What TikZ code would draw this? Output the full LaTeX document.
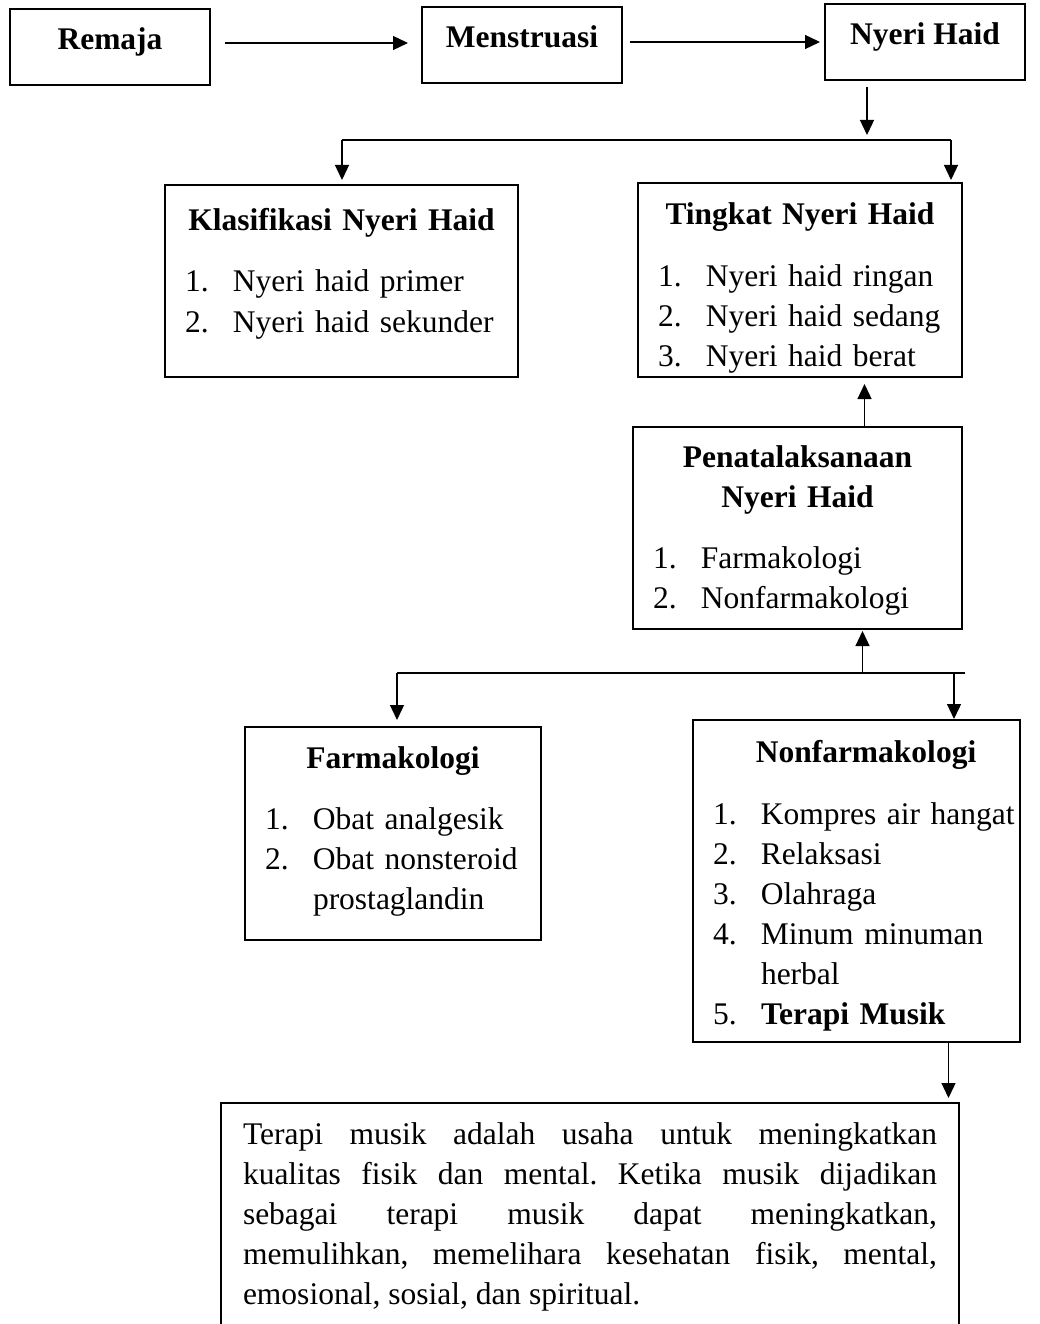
\documentclass[tikz,border=0pt]{standalone}
\usepackage{fontspec}
\setmainfont{Liberation Serif}
\usetikzlibrary{arrows.meta,positioning}
\tikzset{>={Triangle[length=15pt,width=14pt]}}
\newcommand{\diagfont}{\fontsize{31.5}{40}\selectfont\frenchspacing\parindent=0pt\tolerance=10000\hbadness=10000\hfuzz=60pt}
\newcommand{\topgap}[1]{\rule{0pt}{#1}}
\newcommand{\botgap}[1]{\rule[-#1]{0pt}{#1}}
\newcommand{\itm}[2]{\mbox{\makebox[48pt][l]{#1}#2}}
\tikzset{head node/.style={draw,line width=2.5pt,minimum width=200pt,inner sep=0pt,outer sep=0pt,
            text height=41pt,text depth=35pt,font=\diagfont\bfseries},
         list node/.style={draw,line width=2.5pt,anchor=north west,inner xsep=20pt,
            inner ysep=0pt,outer sep=0pt,align=left,font=\diagfont},
         conn/.style={draw,line width=1.3pt},
            }
\begin{document}
\begin{tikzpicture}[x=1pt,y=-1pt]
    \useasboundingbox (0,0) rectangle (1040,1324);
    \clip (0,0) rectangle (1040,1324);

    \node[head node,anchor=north west] (remaja) at (10,9) {Remaja};
    \node[head node] (menstruasi) [right=212pt of remaja,yshift=2pt] {Menstruasi};
    \node[head node] (nyeri) [right=203pt of menstruasi,yshift=3pt] {Nyeri Haid};

    \node[list node,text width=313pt] (klas) at (165,185)
        {\topgap{46pt}\hfill\textbf{Klasifikasi Nyeri Haid}\hfill\null\\[21pt]
         \itm{1.}{Nyeri haid primer}\\
         \itm{2.}{Nyeri haid sekunder}\botgap{45pt}};
    \node[list node,text width=284pt] (tingkat) at (638,183)
        {\topgap{42pt}\hfill\textbf{Tingkat Nyeri Haid}\hfill\null\\[22pt]
         \itm{1.}{Nyeri haid ringan}\\
         \itm{2.}{Nyeri haid sedang}\\
         \itm{3.}{Nyeri haid berat}\botgap{10pt}};
    \node[list node,text width=289pt] (pen) at (633,427)
        {\topgap{40pt}\hfill\textbf{Penatalaksanaan}\hfill\null\\
         \hfill\textbf{Nyeri Haid}\hfill\null\\[21pt]
         \itm{1.}{Farmakologi}\\
         \itm{2.}{Nonfarmakologi}\botgap{21pt}};
    \node[list node,text width=256pt] (farm) at (245,727)
        {\topgap{41pt}\hfill\textbf{Farmakologi}\hfill\null\\[21pt]
         \itm{1.}{Obat analgesik}\\
         \itm{2.}{Obat nonsteroid}\\
         \itm{}{prostaglandin}\botgap{31pt}};
    \node[list node,text width=287pt] (nonfarm) at (693,720)
        {\topgap{42pt}\hspace*{19pt}\hfill\textbf{Nonfarmakologi}\hfill\null\\[22pt]
         \itm{1.}{Kompres air hangat}\\
         \itm{2.}{Relaksasi}\\
         \itm{3.}{Olahraga}\\
         \itm{4.}{Minum minuman}\\
         \itm{}{herbal}\\
         \itm{5.}{\textbf{Terapi Musik}}\botgap{18pt}};
    \node[list node,text width=694pt,inner xsep=22pt,align=justify] (musik) at (221,1103)
        {\topgap{41pt}Terapi musik adalah usaha untuk meningkatkan\linebreak
         kualitas fisik dan mental. Ketika musik dijadikan\linebreak
         sebagai terapi musik dapat meningkatkan,\linebreak
         memulihkan, memelihara kesehatan fisik, mental,\linebreak
         emosional, sosial, dan spiritual.\botgap{40pt}};

    % branching points
    \coordinate (split) at (867,140);
    \coordinate (bl) at (342,140);
    \coordinate (br) at (951,140);
    \coordinate (fl) at (397,673);
    \coordinate (fr) at (965,673);
    \coordinate (nf) at (954,673);

    \draw[conn,->] ([xshift=15pt,yshift=4pt]remaja.east) -- ([xshift=-14pt,yshift=2pt]menstruasi.west);
    \draw[conn,->] ([xshift=8pt,yshift=3pt]menstruasi.east) -- ([xshift=-5pt]nyeri.west);
    \draw[conn,->,shorten >=5pt] ([xshift=-58pt,yshift=-7pt]nyeri.south) -- (split);
    \draw[conn] (bl) -- (br);
    \draw[conn,->,shorten >=5pt] (bl) -- (bl |- klas.north);
    \draw[conn,->,shorten >=3pt] (br) -- (br |- tingkat.north);

    \draw[conn,->,shorten >=7pt] ([xshift=67pt]pen.north) -- ([xshift=67pt]pen.north |- tingkat.south);
    \draw[conn] (fl) -- (fr);
    \draw[conn,->,shorten >=2pt] ([xshift=65pt]fl -| pen.south) -- ([xshift=65pt]pen.south);
    \draw[conn,->,shorten >=7pt] (fl) -- (fl |- farm.north);
    \draw[conn,->,shorten >=1pt] (nf) -- (nf |- nonfarm.north);
    \draw[conn,->,shorten >=5pt] ([xshift=92pt]nonfarm.south) -- ([xshift=92pt]nonfarm.south |- musik.north);

\end{tikzpicture}
\end{document}
